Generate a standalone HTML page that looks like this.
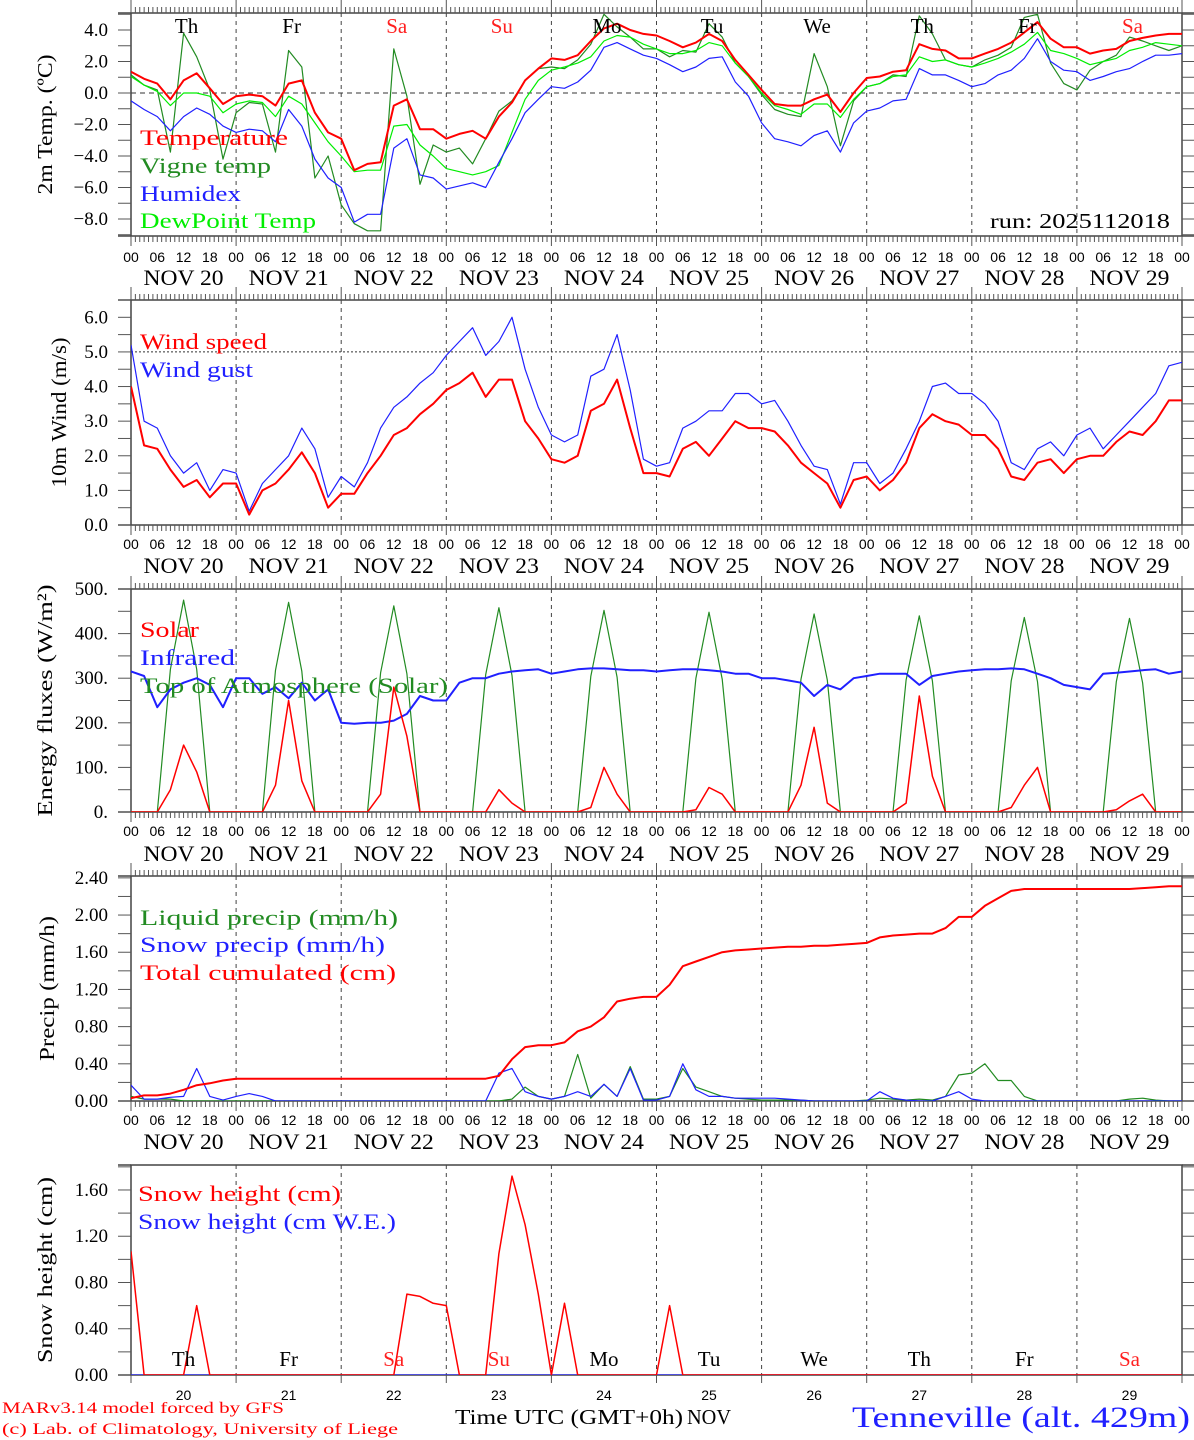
<!DOCTYPE html>
<html><head><meta charset="utf-8"><title>MAR forecast Tenneville</title>
<style>
html,body{margin:0;padding:0;background:#fff;}
svg{display:block;}
text{font-family:"Liberation Serif","DejaVu Serif",serif;}
.sans{font-family:"Liberation Sans","DejaVu Sans",sans-serif;}
</style></head>
<body>
<svg id="chart" xmlns="http://www.w3.org/2000/svg" width="1194" height="1440" viewBox="0 0 1194 1440">
<rect x="0" y="0" width="1194" height="1440" fill="#fff"/>
<text x="2" y="1413" font-size="16" fill="#ff0000" textLength="282" lengthAdjust="spacingAndGlyphs">MARv3.14 model forced by GFS</text>
<text x="2" y="1434" font-size="16" fill="#ff0000" textLength="396" lengthAdjust="spacingAndGlyphs">(c) Lab. of Climatology, University of Liege</text>
<text x="455" y="1424" font-size="21" fill="#000" textLength="228" lengthAdjust="spacingAndGlyphs">Time UTC (GMT+0h)</text>
<text x="687" y="1424" font-size="21" fill="#000" textLength="44" lengthAdjust="spacingAndGlyphs">NOV</text>
<text x="852" y="1427" font-size="30" fill="#2020ff" textLength="338" lengthAdjust="spacingAndGlyphs">Tenneville (alt. 429m)</text>
<text x="990" y="228" font-size="21" fill="#000" textLength="180" lengthAdjust="spacingAndGlyphs">run: 2025112018</text>
</svg>
<script>
// ---------- data (3-hourly, Nov 20 00h -> Nov 30 00h) ----------
const days = ['NOV 20','NOV 21','NOV 22','NOV 23','NOV 24','NOV 25','NOV 26','NOV 27','NOV 28','NOV 29'];
const dayNums = ['20','21','22','23','24','25','26','27','28','29'];
const weekdays = ['Th','Fr','Sa','Su','Mo','Tu','We','Th','Fr','Sa'];
const hourLabels = ['00','06','12','18'];
const tempVals = [1.35,0.9,0.6,-0.4,0.8,1.25,0.3,-0.7, -0.2,-0.1,-0.2,-0.8,0.6,0.8,-1.25,-2.5, -2.9,-4.9,-4.5,-4.4,-0.8,-0.4,-2.3,-2.3, -2.9,-2.6,-2.4,-2.9,-1.5,-0.6,0.8,1.55, 2.2,2.1,2.4,3.3,4.1,4.4,4.0,3.75, 3.65,3.3,2.9,3.2,3.75,3.3,2.1,1.15, 0.2,-0.7,-0.8,-0.8,-0.4,-0.1,-1.2,0, 0.95,1.05,1.35,1.45,3.1,2.8,2.7,2.2, 2.2,2.5,2.8,3.2,3.85,4.5,3.45,2.9, 2.9,2.5,2.7,2.8,3.3,3.5,3.65,3.75,3.75];
const vigneVals = [1.15,0.5,0.2,-3.75,3.8,2.3,0.2,-4.2, -1.25,-0.6,-0.7,-3.75,2.7,1.65,-5.4,-4.0, -7.1,-8.3,-8.75,-8.75,2.8,-0.2,-5.8,-3.3, -3.75,-3.5,-4.5,-2.9,-1.15,-0.5,0.8,1.55, 1.65,1.55,2.1,3.1,5.0,4.2,3.55,2.8, 2.8,2.3,2.7,2.6,4.4,3.55,1.9,1.05, -0.1,-1.05,-1.35,-1.5,2.5,0.4,-3.35,-0.5, 0.4,0.6,1.15,1.05,4.9,3.75,2.1,1.8, 1.65,2.1,2.4,2.9,4.8,5.0,1.9,0.6, 0.2,1.45,2.0,2.4,3.55,3.3,3.0,2.7,3.0];
const humidexVals = [-0.5,-1.05,-1.5,-2.4,-1.5,-0.95,-1.35,-2.1, -2.5,-2.3,-2.4,-3.1,-1.05,-2.1,-4.2,-5.4, -6.0,-8.2,-7.7,-7.7,-3.5,-2.9,-5.2,-5.4, -6.1,-5.9,-5.7,-6.0,-4.4,-2.9,-1.25,-0.4, 0.4,0.3,0.7,1.45,2.9,3.2,2.8,2.4, 2.2,1.8,1.35,1.65,2.2,2.3,0.7,-0.2, -1.9,-2.9,-3.1,-3.35,-2.7,-2.4,-3.75,-1.9, -1.15,-0.95,-0.5,-0.4,1.55,1.15,1.15,0.8, 0.4,0.6,1.15,1.45,2.2,3.45,2.0,1.45, 1.35,0.8,1.05,1.35,1.55,2.0,2.4,2.4,2.5];
const dewVals = [1.05,0.5,0.1,-0.8,0,0,-0.2,-1.25, -0.7,-0.5,-0.6,-1.5,-0.2,-0.7,-1.9,-3.1, -4.0,-5.0,-4.9,-4.9,-2.1,-2.0,-3.3,-4.0, -4.8,-5.0,-5.2,-5.0,-4.6,-2.5,-0.4,0.8, 1.45,1.65,1.9,2.3,3.3,3.65,3.55,3.1, 2.8,2.5,2.5,2.7,3.2,3.0,1.9,1.05, 0,-0.8,-1.05,-1.35,-0.7,-0.7,-1.55,-0.4, 0.4,0.6,1.05,1.15,2.3,2.0,2.1,1.8, 1.65,1.9,2.2,2.6,3.1,3.85,2.7,2.5, 2.2,1.8,2.0,2.2,2.7,2.9,3.2,3.1,3.0];
const windVals = [4.0,2.3,2.2,1.6,1.1,1.3,0.8,1.2, 1.2,0.3,1.0,1.2,1.6,2.1,1.5,0.5, 0.9,0.9,1.5,2.0,2.6,2.8,3.2,3.5, 3.9,4.1,4.4,3.7,4.2,4.2,3.0,2.5, 1.9,1.8,2.0,3.3,3.5,4.2,2.8,1.5, 1.5,1.4,2.2,2.4,2.0,2.5,3.0,2.8, 2.8,2.7,2.3,1.8,1.5,1.2,0.5,1.3, 1.4,1.0,1.3,1.8,2.8,3.2,3.0,2.9, 2.6,2.6,2.2,1.4,1.3,1.8,1.9,1.5, 1.9,2.0,2.0,2.4,2.7,2.6,3.0,3.6,3.6];
const gustVals = [5.2,3.0,2.8,2.0,1.5,1.8,1.0,1.6, 1.5,0.4,1.2,1.6,2.0,2.8,2.2,0.8, 1.4,1.1,1.8,2.8,3.4,3.7,4.1,4.4, 4.9,5.3,5.7,4.9,5.3,6.0,4.5,3.4, 2.6,2.4,2.6,4.3,4.5,5.5,3.9,1.9, 1.7,1.8,2.8,3.0,3.3,3.3,3.8,3.8, 3.5,3.6,3.0,2.3,1.7,1.6,0.6,1.8, 1.8,1.2,1.5,2.2,3.0,4.0,4.1,3.8, 3.8,3.5,3.0,1.8,1.6,2.2,2.4,2.0, 2.6,2.8,2.2,2.6,3.0,3.4,3.8,4.6,4.7];
const solarVals = [0,0,0,50,150,90,0,0, 0,0,0,60,250,70,0,0, 0,0,0,40,280,170,0,0, 0,0,0,0,50,20,0,0, 0,0,0,10,100,40,0,0, 0,0,0,5,55,40,0,0, 0,0,0,60,190,20,0,0, 0,0,0,20,260,80,0,0, 0,0,0,10,60,100,0,0, 0,0,0,5,25,40,0,0,0];
const infraredVals = [315,305,235,275,290,300,285,235, 300,300,265,280,255,290,250,275, 200,198,200,200,205,220,260,250, 250,290,300,300,310,315,318,320, 310,315,320,322,322,320,318,318, 315,318,320,320,318,315,310,310, 300,300,295,290,260,285,275,300, 305,310,310,310,285,305,310,315, 318,320,320,322,320,310,300,285, 280,275,310,312,315,318,320,310,315];
const toaVals = [0,0,0,320,475,320,0,0, 0,0,0,318,470,316,0,0, 0,0,0,312,462,310,0,0, 0,0,0,308,458,306,0,0, 0,0,0,304,452,302,0,0, 0,0,0,300,448,298,0,0, 0,0,0,298,444,296,0,0, 0,0,0,296,440,294,0,0, 0,0,0,294,436,292,0,0, 0,0,0,292,434,290,0,0,0];
const liquidVals = [0.05,0.02,0.02,0.02,0,0,0,0, 0,0,0,0,0,0,0,0, 0,0,0,0,0,0,0,0, 0,0,0,0,0,0.02,0.15,0.05, 0.02,0.05,0.5,0.03,0.18,0.05,0.37,0.02, 0.02,0.05,0.35,0.15,0.1,0.05,0.03,0.02, 0.01,0.01,0.01,0.01,0,0,0,0, 0.01,0.03,0.02,0.01,0.02,0.01,0.05,0.28, 0.3,0.4,0.22,0.22,0.05,0,0,0, 0,0,0,0,0.02,0.03,0.01,0,0];
const snowVals = [0.17,0.02,0.02,0.04,0.05,0.35,0.05,0.01, 0.05,0.08,0.05,0,0,0,0,0, 0,0,0,0,0,0,0,0, 0,0,0,0,0.3,0.35,0.1,0.05, 0.02,0.05,0.1,0.05,0.18,0.05,0.35,0.01, 0.01,0.05,0.4,0.12,0.05,0.05,0.03,0.03, 0.03,0.03,0.02,0.01,0,0,0,0, 0,0.1,0.03,0.01,0,0,0.05,0.1, 0.02,0,0,0,0,0,0,0, 0,0,0,0,0,0,0,0,0];
const cumulVals = [0.03,0.06,0.06,0.08,0.12,0.17,0.19,0.22, 0.24,0.24,0.24,0.24,0.24,0.24,0.24,0.24, 0.24,0.24,0.24,0.24,0.24,0.24,0.24,0.24, 0.24,0.24,0.24,0.24,0.27,0.45,0.58,0.6, 0.6,0.63,0.75,0.8,0.9,1.07,1.1,1.12, 1.12,1.25,1.45,1.5,1.55,1.6,1.62,1.63, 1.64,1.65,1.66,1.66,1.67,1.67,1.68,1.69, 1.7,1.76,1.78,1.79,1.8,1.8,1.86,1.98, 1.98,2.1,2.18,2.26,2.28,2.28,2.28,2.28, 2.28,2.28,2.28,2.28,2.28,2.29,2.3,2.31,2.31];
const snowHeightVals = [1.07,0,0,0,0,0.6,0,0, 0,0,0,0,0,0,0,0, 0,0,0,0,0,0.7,0.68,0.62, 0.6,0,0,0,1.05,1.72,1.3,0.7, 0,0.62,0,0,0,0,0,0, 0,0.6,0,0,0,0,0,0, 0,0,0,0,0,0,0,0, 0,0,0,0,0,0,0,0, 0,0,0,0,0,0,0,0, 0,0,0,0,0,0,0,0,0];
const snowWEVals = [0,0,0,0,0,0,0,0, 0,0,0,0,0,0,0,0, 0,0,0,0,0,0,0,0, 0,0,0,0,0,0,0,0, 0,0,0,0,0,0,0,0, 0,0,0,0,0,0,0,0, 0,0,0,0,0,0,0,0, 0,0,0,0,0,0,0,0, 0,0,0,0,0,0,0,0, 0,0,0,0,0,0,0,0,0];

// ---------- layout ----------
const NS = 'http://www.w3.org/2000/svg';
const svg = document.getElementById('chart');
const X0 = 131, X1 = 1182, HOURS = 240, STEP = 3;
function xScale(h){ return X0 + h * (X1 - X0) / HOURS; }
function mk(tag, attrs, parent){
  const e = document.createElementNS(NS, tag);
  for (const k in attrs) e.setAttribute(k, attrs[k]);
  (parent || svg).appendChild(e);
  return e;
}
function yScaleOf(p){ return v => p.bot - (v - p.ymin) * (p.bot - p.top) / (p.ymax - p.ymin); }

const panels = [
  {id:'temp', top:13, bot:236, ymin:-9.08, ymax:5.08, ticks:[-8,-6,-4,-2,0,2,4], minor:1, fmt:v=>(v<0?'\u2212':'')+Math.abs(v).toFixed(1), title:'2m Temp. (\u00BAC)', tlen:140, tx:52, refLine:0, hourAxis:true, labY:262, dayY:285},
  {id:'wind', top:300, bot:525, ymin:0, ymax:6.5, ticks:[0,1,2,3,4,5,6], minor:0.5, fmt:v=>v.toFixed(1), title:'10m Wind (m/s)', tlen:150, tx:66, refLine:5, hourAxis:true, labY:549, dayY:573},
  {id:'energy', top:589, bot:812, ymin:0, ymax:500, ticks:[0,100,200,300,400,500], minor:50, fmt:v=>v+'.', title:'Energy fluxes (W/m\u00B2)', tlen:232, tx:52, refLine:null, hourAxis:true, labY:836, dayY:861},
  {id:'precip', top:876, bot:1101, ymin:0, ymax:2.42, ticks:[0,0.4,0.8,1.2,1.6,2.0,2.4], minor:0.2, fmt:v=>v.toFixed(2), title:'Precip (mm/h)', tlen:145, tx:54, refLine:null, hourAxis:true, labY:1125, dayY:1149},
  {id:'snow', top:1165, bot:1375, ymin:0, ymax:1.816, ticks:[0,0.4,0.8,1.2,1.6], minor:0.2, fmt:v=>v.toFixed(2), title:'Snow height (cm)', tlen:186, tx:52, refLine:null, hourAxis:false}
];

panels.forEach(p => {
  const y = yScaleOf(p);
  p.y = y;
  const g = mk('g', {});
  
  
  p.g = g;
  const cp = mk('clipPath', {id:'clip-' + p.id}, g);
  mk('rect', {x:X0, y:p.top, width:X1 - X0, height:p.bot - p.top}, cp);
  for (let d = 1; d < 10; d++){
    const ln = mk('line', {x1:xScale(d*24), x2:xScale(d*24), y1:p.top, y2:p.bot, stroke:'#444', 'stroke-width':1, 'stroke-dasharray':'4,4'}, g);
    
    
  }
  if (p.refLine !== null){
    const rl = mk('line', {x1:X0, x2:X1, y1:y(p.refLine), y2:y(p.refLine), stroke:'#333', 'stroke-width':1, 'stroke-dasharray': p.id==='wind' ? '2,2' : '5,4'}, g);
    
    
  }
  const fr = mk('rect', {x:X0, y:p.top, width:X1 - X0, height:p.bot - p.top, fill:'none', stroke:'#444', 'stroke-width':1.5}, g);
  
  
  mk('line', {x1:118, x2:X0, y1:p.top, y2:p.top, stroke:'#444', 'stroke-width':1.5}, g);
  mk('line', {x1:X1, x2:1194, y1:p.top, y2:p.top, stroke:'#444', 'stroke-width':1.5}, g);
  mk('line', {x1:118, x2:X0, y1:p.bot, y2:p.bot, stroke:'#444', 'stroke-width':1.5}, g);
  mk('line', {x1:X1, x2:1194, y1:p.bot, y2:p.bot, stroke:'#444', 'stroke-width':1.5}, g);
  for (let v = p.ymin - (p.ymin % p.minor); v <= p.ymax + 1e-9; v += p.minor){
    if (v < p.ymin - 1e-9) continue;
    const yy = y(v);
    mk('line', {x1:118, x2:X0, y1:yy, y2:yy, stroke:'#555', 'stroke-width':1}, g);
    mk('line', {x1:X1, x2:1194, y1:yy, y2:yy, stroke:'#555', 'stroke-width':1}, g);
  }
  p.ticks.forEach(v => {
    const t = mk('text', {x:108, y:y(v) + 6, 'font-size':19, 'text-anchor':'end', fill:'#000'}, g);
    t.textContent = p.fmt(v);
    
    
  });
  const tt = mk('text', {x:0, y:0, 'font-size':21, 'text-anchor':'middle', fill:'#000', textLength:p.tlen, lengthAdjust:'spacingAndGlyphs', transform:'translate(' + p.tx + ',' + ((p.top + p.bot)/2) + ') rotate(-90)'}, g);
  tt.textContent = p.title;
  
  
  if (p.hourAxis){
    for (let h = 0; h <= HOURS; h++){
      const xx = xScale(h);
      const big = h % 24 === 0;
      mk('line', {x1:xx, x2:xx, y1:p.top - (big ? 13 : 6), y2:p.top, stroke:'#555', 'stroke-width':1}, g);
      mk('line', {x1:xx, x2:xx, y1:p.bot, y2:p.bot + (big ? 10 : 6), stroke:'#555', 'stroke-width':1}, g);
    }
    for (let d = 0; d <= 10; d++){
      for (let k = 0; k < 4; k++){
        if (d === 10 && k > 0) break;
        const lab = mk('text', {x:xScale(d*24 + k*6), y:p.labY, 'font-size':14, 'text-anchor':'middle', fill:'#000', class:'sans'}, g);
        lab.textContent = hourLabels[k];
        
        
      }
    }
    days.forEach((dl, d) => {
      const lab = mk('text', {x:xScale(d*24 + 12), y:p.dayY, 'font-size':22, 'text-anchor':'middle', fill:'#000', textLength:80, lengthAdjust:'spacingAndGlyphs'}, g);
      lab.textContent = dl;
      
      
    });
  } else {
    for (let d = 0; d <= 10; d++){
      mk('line', {x1:xScale(d*24), x2:xScale(d*24), y1:p.bot, y2:p.bot + 8, stroke:'#555', 'stroke-width':1}, g);
    }
    dayNums.forEach((dn, d) => {
      const lab = mk('text', {x:xScale(d*24 + 12), y:1400, 'font-size':14, 'text-anchor':'middle', fill:'#000', class:'sans'}, g);
      lab.textContent = dn;
      
      
    });
  }
});

weekdays.forEach((w, d) => {
  const red = (w === 'Sa' || w === 'Su');
  const a = mk('text', {x:xScale(d*24 + 12) + 3, y:33, 'font-size':21, 'text-anchor':'middle', fill: red ? '#ff2020' : '#000'});
  a.textContent = w;
  
  
  const b = mk('text', {x:xScale(d*24 + 12), y:1366, 'font-size':21, 'text-anchor':'middle', fill: red ? '#ff2020' : '#000'});
  b.textContent = w;
  
  
});

function series(pi, vals, color, width, name){
  const p = panels[pi];
  const d = vals.map((v, i) => (i ? 'L' : 'M') + xScale(i*STEP).toFixed(1) + ',' + p.y(v).toFixed(1)).join('');
  const path = mk('path', {d:d, fill:'none', stroke:color, 'stroke-width':width, 'stroke-linejoin':'round', 'clip-path':'url(#clip-' + p.id + ')'}, p.g);
  
  
}
function legend(x, y, text, color, len, name){
  const t = mk('text', {x:x, y:y, 'font-size':22, fill:color, textLength:len, lengthAdjust:'spacingAndGlyphs'});
  t.textContent = text;
  
  
}

series(0, vigneVals, '#228b22', 1.2, 'vigne-temp-line');
series(0, dewVals, '#00ee00', 1.2, 'dewpoint-line');
series(0, humidexVals, '#2020ff', 1.2, 'humidex-line');
series(0, tempVals, '#ff0000', 2, 'temperature-line');
series(1, gustVals, '#2020ff', 1.2, 'wind-gust-line');
series(1, windVals, '#ff0000', 2, 'wind-speed-line');
series(2, toaVals, '#228b22', 1.2, 'toa-solar-line');
series(2, infraredVals, '#2020ff', 2, 'infrared-line');
series(2, solarVals, '#ff0000', 1.5, 'solar-line');
series(3, liquidVals, '#228b22', 1.2, 'liquid-precip-line');
series(3, snowVals, '#2020ff', 1.2, 'snow-precip-line');
series(3, cumulVals, '#ff0000', 2, 'total-cumulated-line');
series(4, snowWEVals, '#2020ff', 1.2, 'snow-we-line');
series(4, snowHeightVals, '#ff0000', 1.5, 'snow-height-line');

legend(140, 145, 'Temperature', '#ff0000', 148, 'legend-temperature');
legend(140, 173, 'Vigne temp', '#228b22', 131, 'legend-vigne-temp');
legend(140, 201, 'Humidex', '#2020ff', 101, 'legend-humidex');
legend(140, 228, 'DewPoint Temp', '#00ee00', 176, 'legend-dewpoint');
legend(140, 349, 'Wind speed', '#ff0000', 127, 'legend-wind-speed');
legend(140, 377, 'Wind gust', '#2020ff', 113, 'legend-wind-gust');
legend(140, 637, 'Solar', '#ff0000', 59, 'legend-solar');
legend(140, 665, 'Infrared', '#2020ff', 95, 'legend-infrared');
legend(140, 693, 'Top of Atmosphere (Solar)', '#228b22', 308, 'legend-toa');
legend(140, 925, 'Liquid precip (mm/h)', '#228b22', 258, 'legend-liquid-precip');
legend(140, 952, 'Snow precip (mm/h)', '#2020ff', 245, 'legend-snow-precip');
legend(140, 980, 'Total cumulated (cm)', '#ff0000', 256, 'legend-total-cumulated');
legend(138, 1201, 'Snow height (cm)', '#ff0000', 203, 'legend-snow-height');
legend(138, 1229, 'Snow height (cm W.E.)', '#2020ff', 258, 'legend-snow-we');
</script>
</body></html>
